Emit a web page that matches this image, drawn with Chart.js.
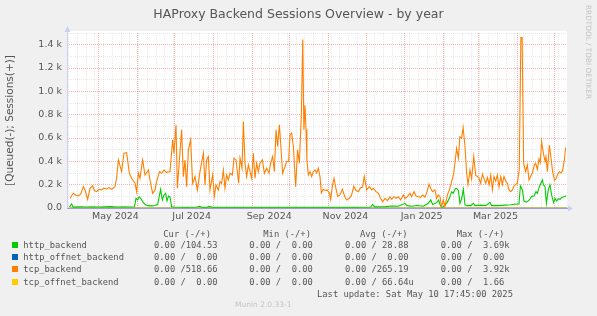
<!DOCTYPE html>
<html>
<head>
<meta charset="utf-8">
<title>HAProxy Backend Sessions Overview - by year</title>
<script src="https://cdn.jsdelivr.net/npm/chart.js@4.4.1/dist/chart.umd.min.js"></script>
<style>
  body {
    margin: 0;
    width: 597px;
    height: 316px;
    overflow: hidden;
    position: relative;
    background: #f0f0f0;
    font-family: "DejaVu Sans", sans-serif;
  }
  #chart { position: absolute; left: 0; top: 0; }
  .title {
    position: absolute; left: 0; top: 6px; width: 597px;
    text-align: center; font-size: 12.5px; line-height: 16px; color: #555;
  }
  .mono {
    position: absolute; white-space: pre;
    font-family: "DejaVu Sans Mono", monospace;
    font-size: 8.8px; line-height: 12px; color: #555;
  }
  .swatch { position: absolute; left: 12px; width: 6px; height: 6px; }
  .munin {
    position: absolute; left: 235px; top: 300px;
    font-size: 7.5px; line-height: 10px; color: #c4c4c4;
  }
  .rrd {
    position: absolute; left: 584px; top: 5px;
    writing-mode: vertical-rl;
    font-size: 7.3px; line-height: 9px; color: #c4c4c4;
  }
</style>
</head>
<body>
<canvas id="chart" width="597" height="316"></canvas>
<div class="title">HAProxy Backend Sessions Overview - by year</div>
<div id="legend"></div>
<div class="mono" style="left:317px; top:288px;">Last update: Sat May 10 17:45:00 2025</div>
<div class="munin">Munin 2.0.33-1</div>
<div class="rrd">RRDTOOL / TOBI OETIKER</div>

<script>
// graph covers 400 days ending Sat May 10 2025 17:45, x values are days since the left edge
const START = Date.UTC(2024, 3, 5, 17, 45);
const DAY_MS = 86400000;
const toDay = (y, m, d) => (Date.UTC(y, m, d) - START) / DAY_MS;

// tick labels (centred in their month)
const monthLabels = ["May 2024", "Jul 2024", "Sep 2024", "Nov 2024", "Jan 2025", "Mar 2025"];
const labelMonths = [[2024, 4], [2024, 6], [2024, 8], [2024, 10], [2025, 0], [2025, 2]];

// tcp_backend sessions (daily averages)
const tcpDays = [
  2.4, 5.1, 7, 9.1, 11, 13.1, 14.4, 16.5, 18.4, 20.5, 22, 23.7, 25.5, 27.7, 29.5, 31.7, 33.5, 35.7,
  38.4, 39.7, 41.1, 43.7, 45.6, 47.7, 49.9, 51.7, 54.4, 55.7, 57.1, 58.4, 60.5, 62.4, 65.1, 66.4,
  68.5, 70.4, 71.7, 73.9, 75.7, 77.6, 79.7, 82.4, 84.5, 85.6, 87.2, 88.3, 89.9, 91.7, 93.1, 94.4,
  95.7, 97.1, 98.9, 100.5, 102.4, 104.3, 106.4, 109.1, 110.4, 111.7, 113.1, 114.4, 116.5, 117.9,
  119.2, 121.1, 122.4, 123.7, 125.1, 126.4, 127.7, 129.1, 130.4, 132.3, 133.6, 135.2, 136.3, 137.3,
  138.4, 140, 141.1, 142.4, 143.7, 145.1, 146.4, 147.7, 149.1, 150.4, 151.7, 153.1, 154.4, 156.3,
  157.9, 159.7, 161.6, 162.9, 164.5, 165.9, 167.2, 168.5, 169.9, 171.2, 172.5, 174.4, 175.7, 177.3,
  178.4, 179.7, 181.1, 182.9, 184.5, 185.9, 187.5, 188.6, 189.5, 190.4, 191.2, 191.9, 193.1, 194.4,
  195.7, 197.1, 198.4, 199.7, 201.1, 202.4, 203.5, 205, 206.5, 208, 209.9, 210.9, 212.5, 213.6,
  214.9, 216.5, 218.4, 220.3, 222.4, 223.7, 225.9, 227.7, 229.4, 231.2, 233.1, 234.6, 236.5, 237.8,
  239.7, 241.9, 243.7, 245.1, 247.2, 249.1, 250.4, 252.5, 254.4, 256.3, 258.4, 259.7, 261.6, 263.2,
  265.1, 266.9, 269.1, 270.4, 272.3, 274.4, 275.7, 277.6, 279.2, 281.1, 282.9, 284.5, 286.4, 287.7,
  289.7, 290.9, 292.5, 294.4, 295.7, 297.1, 298.4, 299.6, 301.1, 302.4, 304.3, 305.9, 307.7, 309.3,
  310.4, 311.7, 313.1, 314.3, 315.7, 316.9, 318.4, 319.7, 320.8, 322.4, 323.7, 325.4, 327, 328.4,
  329.6, 330.9, 332.4, 333.7, 335, 336.4, 337.7, 339, 340.3, 341.6, 343, 344.3, 345.6, 347, 348.3,
  349.6, 351, 352.3, 353.6, 355, 356.3, 357.6, 359, 360.3, 361.8, 363.1, 364.1, 365.3, 366.9, 368.3,
  369.6, 370.9, 372.3, 373.9, 374.9, 376.3, 377.6, 378.6, 379.7, 381.1, 382.4, 383.2, 384.3, 385.9,
  387.2, 388.5, 389.9, 391.2, 392.5, 393.9, 395.2, 396.5, 397.9, 398.9
];
const tcpSessions = [
  83, 126, 110, 103, 120, 183, 155, 74, 169, 189, 150, 140, 160, 155, 170, 163, 175, 160,
  183, 255, 412, 312, 470, 475, 298, 255, 212, 140, 298, 255, 412, 283, 326, 240,
  126, 155, 226, 312, 298, 326, 306, 312, 584, 470, 713, 169, 412, 670, 269, 412,
  183, 498, 584, 212, 269, 155, 312, 470, 198, 412, 441, 155, 283, 103,
  198, 155, 226, 212, 326, 169, 283, 240, 298, 283, 427, 412, 312, 212,
  427, 341, 741, 384, 269, 369, 312, 255, 470, 255, 384, 312, 384, 412,
  298, 341, 298, 384, 441, 312, 670, 527, 713, 512, 298, 355, 398, 398,
  627, 641, 527, 183, 498, 384, 813, 1445, 670, 880, 670, 412, 283, 312,
  270, 312, 326, 300, 341, 269, 130, 160, 150, 155, 130, 74, 200, 255,
  180, 100, 112, 160, 92, 69, 85, 112, 186, 150, 140, 172, 180, 272,
  155, 183, 155, 169, 140, 126, 92, 54, 83, 63, 97, 74, 97, 83,
  97, 69, 112, 83, 97, 126, 97, 140, 103, 97, 92, 112, 92, 130,
  203, 170, 140, 155, 83, 112, 97, 12, 69, 12, 112, 155, 226, 290,
  390, 512, 427, 610, 600, 690, 527, 300, 200, 326, 250, 441, 280, 270,
  255, 212, 290, 250, 212, 260, 198, 283, 155, 270, 230, 283, 180, 270, 200,
  270, 230, 212, 155, 140, 155, 190, 200, 215, 326, 1460, 1460, 384, 312, 370,
  240, 270, 300, 370, 384, 330, 420, 390, 570, 470, 400, 440, 312, 540,
  427, 312, 240, 250, 290, 310, 300, 320, 412, 519
];

// http_backend sessions
const httpDays = [
  2, 3.7, 5, 10, 15, 20, 25, 30, 35, 40, 45, 50, 54, 55.2, 56.5, 57.8, 59.5, 61, 63, 65, 68, 70,
  72.5, 74.9, 76.3, 77.6, 78.9, 80, 81.2, 82.4, 83.7, 86, 95, 104, 106, 108, 112, 114, 116, 150,
  175, 200, 230, 243, 244.5, 246, 255, 260, 265, 270.4, 272, 276, 280, 285, 287, 289, 291, 292.5,
  295.7, 297.3, 298.5, 299.7, 301, 303.7, 305.9, 307.7, 309, 310.6, 311.7, 313.1, 314.4, 315.7,
  317.1, 318.4, 320, 323, 325.1, 326.4, 331, 335, 338.4, 339.7, 345, 350, 355, 359.7, 361.6, 362.7,
  364.3, 365.6, 367.7, 369.9, 371.7, 373.6, 375.2, 376.3, 377.9, 378.9, 380.3, 381.1, 382.4, 383.5,
  385.1, 386.4, 387.7, 389.3, 390.4, 391.7, 393.1, 394.5, 395.7, 397, 398.5, 399.5
];
const httpSessions = [
  10, 34, 8, 10, 8, 11, 8, 10, 12, 9, 11, 8, 10, 83, 70, 97, 75, 45, 26, 20, 18, 22,
  30, 160, 69, 112, 126, 60, 103, 95, 11, 8, 6, 8, 15, 6, 6, 14, 6, 6,
  6, 6, 7, 8, 30, 10, 12, 17, 15, 40, 20, 15, 22, 15, 28, 40, 69, 30,
  46, 69, 25, 6, 10, 40, 83, 140, 126, 165, 169, 150, 40, 80,
  160, 26, 20, 20, 40, 20, 25, 20, 49, 20, 20, 25, 28, 34, 34, 190,
  155, 60, 50, 69, 100, 103, 140, 125, 183, 206, 240, 200, 185, 40,
  160, 198, 112, 46, 83, 60, 80, 75, 90, 95, 100, 105
];

// offnet backends stay at zero the whole year
const offnetDays = [2, 400];
const httpOffnetSessions = [0, 0];
const tcpOffnetSessions = [0, 0];

// legend table
const seriesNames = ["http_backend", "http_offnet_backend", "tcp_backend", "tcp_offnet_backend"];
const seriesColors = ["#00cc00", "#0066b3", "#ff8000", "#ffcc00"];
const curText = ["0.00 /104.53", "0.00 /  0.00", "0.00 /518.66", "0.00 /  0.00"];
const minText = ["0.00 /  0.00", "0.00 /  0.00", "0.00 /  0.00", "0.00 /  0.00"];
const avgText = ["0.00 / 28.88", "0.00 /  0.00", "0.00 /265.19", "0.00 / 66.64u"];
const maxText = ["0.00 /  3.69k", "0.00 /  0.00", "0.00 /  3.92k", "0.00 /  1.66"];
const columnHeads = ["Cur (-/+)", "Min (-/+)", "Avg (-/+)", "Max (-/+)"];

const GRID = "rgba(175, 175, 175, 0.28)";
const MGRID = "rgba(235, 70, 70, 0.42)";
const AXIS = "#c9cff5";

// vertical grid: weeks (Sundays), month starts, and label positions
const xKinds = new Map();
const xLabels = new Map();
const key = (d) => Math.round(d * 1000) / 1000;
for (let t = Date.UTC(2024, 3, 7); t <= START + 400 * DAY_MS; t += 7 * DAY_MS) {
  xKinds.set(key((t - START) / DAY_MS), "week");
}
for (let y = 2024, m = 4; y < 2025 || m <= 4; m++) {
  if (m > 11) { m = 0; y++; }
  xKinds.set(key(toDay(y, m, 1)), "month");
  if (y === 2025 && m === 4) break;
}
labelMonths.forEach(([y, m], i) => {
  const d = key(toDay(y, m, 1) + 13.5);
  xKinds.set(d, "label");
  xLabels.set(d, monthLabels[i]);
});

function pairs(xs, ys) {
  return xs.map((x, i) => ({ x: x, y: ys[i] }));
}

// legend rows as text
const legend = document.getElementById("legend");
const colLeft = [154, 249.3, 345, 440.7];
const headLeft = [163.3, 263.3, 360, 456.7];
columnHeads.forEach((h, i) => {
  const el = document.createElement("div");
  el.className = "mono";
  el.style.left = headLeft[i] + "px";
  el.style.top = "228px";
  el.textContent = h;
  legend.appendChild(el);
});
seriesNames.forEach((name, r) => {
  const cy = 245 + r * 12.2;
  const sw = document.createElement("div");
  sw.className = "swatch";
  sw.style.top = (cy - 3) + "px";
  sw.style.background = seriesColors[r];
  legend.appendChild(sw);
  const cells = [name, curText[r], minText[r], avgText[r], maxText[r]];
  const lefts = [23.3].concat(colLeft);
  cells.forEach((txt, c) => {
    const el = document.createElement("div");
    el.className = "mono";
    el.style.left = lefts[c] + "px";
    el.style.top = (cy - 6) + "px";
    el.textContent = txt;
    legend.appendChild(el);
  });
});

// background, white canvas and the rrdtool style axes with arrows
const rrdFrame = {
  id: "rrdFrame",
  beforeDraw(chart) {
    const { ctx, chartArea: a } = chart;
    ctx.save();
    ctx.fillStyle = "#f0f0f0";
    ctx.fillRect(0, 0, chart.width, chart.height);
    ctx.fillStyle = "#ffffff";
    ctx.fillRect(a.left, a.top - 2, a.right - a.left, a.bottom - a.top + 2);
    ctx.restore();
  },
  afterDatasetsDraw(chart) {
    const { ctx, chartArea: a } = chart;
    const y0 = Math.round(chart.scales.y.getPixelForValue(0)) + 0.5;
    const x0 = Math.round(a.left) + 0.5;
    ctx.save();
    ctx.lineWidth = 1;
    ctx.strokeStyle = AXIS;
    ctx.beginPath();
    ctx.moveTo(x0, y0);
    ctx.lineTo(x0, a.top - 4);
    ctx.stroke();
    ctx.strokeStyle = "#a0a0c6";
    ctx.beginPath();
    ctx.moveTo(a.left, y0);
    ctx.lineTo(a.right + 3, y0);
    ctx.stroke();
    ctx.fillStyle = AXIS;
    ctx.beginPath();
    ctx.moveTo(x0 - 3, a.top - 1);
    ctx.lineTo(x0 + 3, a.top - 1);
    ctx.lineTo(x0, a.top - 7);
    ctx.closePath();
    ctx.fill();
    ctx.beginPath();
    ctx.moveTo(a.right + 1, y0 - 3);
    ctx.lineTo(a.right + 1, y0 + 3);
    ctx.lineTo(a.right + 6, y0);
    ctx.closePath();
    ctx.fill();
    ctx.restore();
  }
};

const tickFont = { family: "DejaVu Sans", size: 9.5 };

new Chart(document.getElementById("chart"), {
  type: "line",
  data: {
    datasets: [
      {
        label: "tcp_backend",
        data: pairs(tcpDays, tcpSessions),
        borderColor: "#ff8000",
        borderWidth: 1.1,
        order: 0,
      },
      {
        label: "http_backend",
        data: pairs(httpDays, httpSessions),
        borderColor: "#00cc00",
        borderWidth: 1.1,
        order: 1,
      },
      {
        label: "tcp_offnet_backend",
        data: pairs(offnetDays, tcpOffnetSessions),
        borderColor: "#ffcc00",
        borderWidth: 1,
        order: 2,
      },
      {
        label: "http_offnet_backend",
        data: pairs(offnetDays, httpOffnetSessions),
        borderColor: "#0066b3",
        borderWidth: 1,
        order: 3,
      },
    ],
  },
  options: {
    responsive: false,
    animation: false,
    devicePixelRatio: 1,
    layout: { padding: { left: 0, right: 30, top: 33, bottom: 88 } },
    elements: { point: { radius: 0 }, line: { tension: 0 } },
    plugins: {
      legend: { display: false },
      tooltip: { enabled: false },
    },
    scales: {
      x: {
        type: "linear",
        min: 0,
        max: 400,
        afterFit: (scale) => { scale.height = 20; },
        afterBuildTicks: (scale) => {
          scale.ticks = [...xKinds.keys()].sort((p, q) => p - q).map((v) => ({ value: v }));
        },
        ticks: {
          autoSkip: false,
          maxRotation: 0,
          minRotation: 0,
          padding: 3,
          color: "#555",
          font: tickFont,
          callback: (value) => xLabels.get(key(value)) || "",
        },
        grid: {
          drawTicks: false,
          lineWidth: 1,
          color: (ctx) => {
            const kind = ctx.tick ? xKinds.get(key(ctx.tick.value)) : null;
            if (kind === "month") return MGRID;
            if (kind === "week") return GRID;
            return "rgba(0,0,0,0)";
          },
        },
        border: { display: false, dash: [1, 1] },
      },
      y: {
        min: 0,
        max: 1500,
        afterFit: (scale) => { scale.width = 67; },
        ticks: {
          stepSize: 100,
          autoSkip: false,
          padding: 5,
          color: "#555",
          font: tickFont,
          callback: (v) => {
            if (v % 200 !== 0) return "";
            return v === 0 ? "0.0" : (v / 1000).toFixed(1) + " k";
          },
        },
        grid: {
          drawTicks: false,
          lineWidth: 1,
          color: (ctx) => {
            const v = ctx.tick ? ctx.tick.value : null;
            if (v === 0) return "rgba(0,0,0,0)";
            return v % 200 === 0 ? MGRID : GRID;
          },
        },
        border: { display: false, dash: [1, 1] },
        title: {
          display: true,
          text: "[Queued(-); Sessions(+)]",
          color: "#555",
          font: { family: "DejaVu Sans", size: 10.5 },
          padding: { top: 3.7, bottom: 0 },
        },
      },
    },
  },
  plugins: [rrdFrame],
});
</script>
</body>
</html>
